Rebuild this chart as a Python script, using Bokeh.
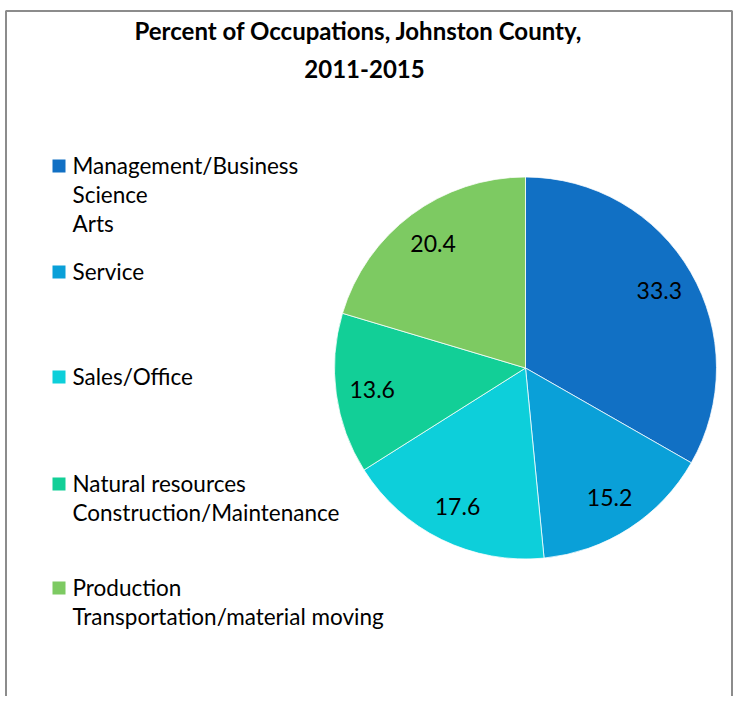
import math
from bokeh.plotting import figure
from bokeh.models import Range1d, ColumnDataSource
from bokeh.core.properties import value
from bokeh.embed import file_html
from bokeh.resources import INLINE

title_lines = ["Percent of Occupations, Johnston County,", "2011-2015"]
categories = ["Management/Business\nScience\nArts", "Service", "Sales/Office",
              "Natural resources\nConstruction/Maintenance",
              "Production\nTransportation/material moving"]
values = [33.3, 15.2, 17.6, 13.6, 20.4]
labels = ["33.3", "15.2", "17.6", "13.6", "20.4"]
colors = ["#1170C4", "#0AA0D8", "#0DCFDA", "#12CF97", "#7DCA62"]
legend_y = [165, 271, 376, 483, 587]  # y of first line of each entry (from top)

W, H = 733, 696
FONT = "Lato"

def py(y):  # y from top -> data y
    return H - y

p = figure(width=W, height=H, output_backend="svg", toolbar_location=None,
           x_range=Range1d(0, W), y_range=Range1d(0, H),
           min_border=0)
p.axis.visible = False
p.grid.visible = False
p.outline_line_color = None
p.background_fill_color = "white"
p.border_fill_color = "white"

# chart border
p.line([5.5, 5.5, 731.5, 731.5], [py(H + 5), py(10.5), py(10.5), py(H + 5)],
       line_color="#8C8C8C", line_width=2)

# title
p.text(x=[358, 364], y=[py(30), py(68)], text=title_lines,
       text_font=value(FONT), text_font_style="bold", text_font_size="24px",
       text_align="center", text_baseline="middle", text_color="black")

# pie
cx, cy, R = 525, py(367.5), 191
total = sum(values)
starts, ends, lx, ly = [], [], [], []
a = math.pi / 2
for v in values:
    span = v / total * 2 * math.pi
    starts.append(a - span)
    ends.append(a)
    mid = a - span / 2
    lx.append(cx + 0.81 * R * math.cos(mid))
    ly.append(cy + 0.81 * R * math.sin(mid))
    a -= span
src = ColumnDataSource(dict(start=starts, end=ends, color=colors))
p.wedge(x=cx, y=cy, radius=R, start_angle="start", end_angle="end",
        fill_color="color", line_color="white", line_width=0.75, source=src)
p.text(x=lx, y=ly, text=labels, text_font=value(FONT), text_font_size="23px",
       text_align="center", text_baseline="middle", text_color="black")

# legend
sq_x, sq_y, tx, ty, tt = [], [], [], [], []
for cat, y0 in zip(categories, legend_y):
    sq_x.append(58.5)
    sq_y.append(py(y0 + 0.5))
    for i, line in enumerate(cat.split("\n")):
        tx.append(72)
        ty.append(py(y0 + i * 29))
        tt.append(line)
p.rect(x=sq_x, y=sq_y, width=13, height=13, fill_color=colors, line_color=None)
p.text(x=tx, y=ty, text=tt, text_font=value(FONT), text_font_size="22.5px",
       text_align="left", text_baseline="middle", text_color="black")

open("out.html", "w").write(file_html(p, INLINE))
